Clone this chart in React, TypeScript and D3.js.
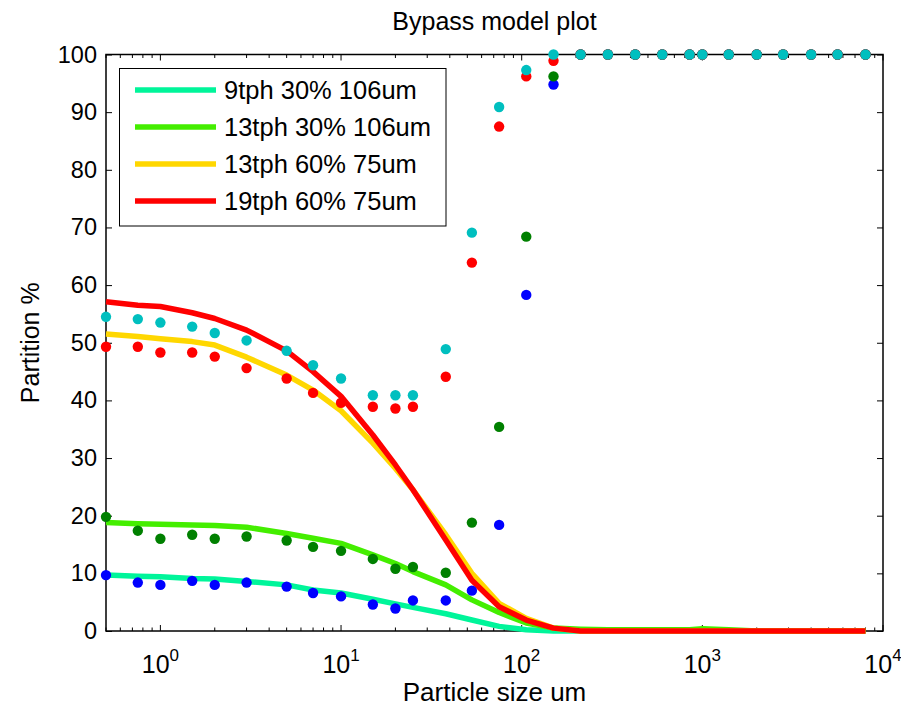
import React, { useEffect, useRef } from 'react';
import * as d3 from 'd3';

// Particle sizes (um)
const sizes = [0.5, 0.75, 1, 1.5, 2, 3, 5, 7, 10, 15, 20, 25, 38, 53, 75, 106, 150, 212, 300, 425, 600, 850, 1000, 1400, 2000, 2800, 4000, 5600, 8000];

// Measured partition points (%)
const blueDots = [9.7, 8.4, 8.0, 8.7, 8.0, 8.4, 7.7, 6.6, 6.0, 4.6, 3.9, 5.3, 5.3, 7.0, 18.4, 58.3, 94.8, 100, 100, 100, 100, 100, 100, 100, 100, 100, 100, 100, 100];
const greenDots = [19.8, 17.4, 16.0, 16.7, 16.0, 16.4, 15.7, 14.6, 13.9, 12.5, 10.8, 11.1, 10.1, 18.8, 35.4, 68.4, 96.2, 100, 100, 100, 100, 100, 100, 100, 100, 100, 100, 100, 100];
const redDots = [49.3, 49.3, 48.3, 48.3, 47.6, 45.6, 43.8, 41.3, 39.6, 38.9, 38.6, 38.9, 44.1, 63.9, 87.5, 96.2, 98.9, 100, 100, 100, 100, 100, 100, 100, 100, 100, 100, 100, 100];
const cyanDots = [54.5, 54.1, 53.5, 52.8, 51.7, 50.4, 48.6, 46.1, 43.8, 40.9, 40.9, 40.9, 48.9, 69.1, 90.9, 97.3, 100, 100, 100, 100, 100, 100, 100, 100, 100, 100, 100, 100, 100];

// Bypass model curves (%)
const model9tph = [9.7, 9.5, 9.4, 9.1, 9.0, 8.6, 8.0, 7.1, 6.6, 5.5, 4.7, 4.1, 3.0, 1.9, 0.8, 0.2, 0, 0, 0, 0, 0, 0, 0, 0, 0, 0, 0, 0, 0];
const model13tph30 = [18.8, 18.6, 18.5, 18.4, 18.3, 18.0, 16.9, 16.1, 15.2, 13.2, 11.7, 10.3, 8.0, 5.4, 3.2, 1.4, 0.5, 0.3, 0.2, 0.2, 0.2, 0.2, 0.4, 0.2, 0, 0, 0, 0, 0];
const model13tph60 = [51.5, 51.1, 50.7, 50.2, 49.6, 47.5, 44.4, 41.8, 38.2, 32.6, 28.2, 24.5, 16.7, 10.0, 4.8, 2.2, 0.5, 0, 0, 0, 0, 0, 0, 0, 0, 0, 0, 0, 0];
const model19tph = [57.1, 56.5, 56.3, 55.2, 54.2, 52.2, 48.6, 45.0, 40.7, 34.0, 28.8, 24.5, 15.8, 8.8, 4.2, 1.9, 0.5, 0, 0, 0, 0, 0, 0, 0, 0, 0, 0, 0, 0];

const lineNames = ['9tph 30% 106um', '13tph 30% 106um', '13tph 60% 75um', '19tph 60% 75um'];
const lineColors = ['#00F59A', '#44EE00', '#FFD700', '#FF0000'];
const lineSeries = [model9tph, model13tph30, model13tph60, model19tph];
const dotColors = ['#0000FF', '#008000', '#FF0000', '#00BFBF'];
const dotSeries = [blueDots, greenDots, redDots, cyanDots];

const xDecades = [1, 10, 100, 1000, 10000];
const yTicks = [0, 10, 20, 30, 40, 50, 60, 70, 80, 90, 100];

const FONT = '"Liberation Sans", Arial, sans-serif';

export default function App() {
  const ref = useRef<SVGSVGElement>(null);
  useEffect(() => {
    const svg = d3.select(ref.current);
    svg.selectAll('*').remove();
    const L = 106, R = 883, T = 54.5, B = 631;
    const x = d3.scaleLog().domain([0.5, 10000]).range([L, R]);
    const y = d3.scaleLinear().domain([0, 100]).range([B, T]);

    svg.append('rect').attr('width', 901).attr('height', 711).attr('fill', '#fff');

    // minor x ticks
    const minor: number[] = [];
    for (let k = -1; k <= 3; k++) {
      for (let m = 1; m <= 9; m++) {
        const v = m * Math.pow(10, k);
        if (v >= 0.5 && v <= 10000 && m !== 1) minor.push(v);
      }
    }
    const tg = svg.append('g').attr('stroke', '#000').attr('stroke-width', 1);
    minor.forEach(v => {
      tg.append('line').attr('x1', x(v)).attr('x2', x(v)).attr('y1', B).attr('y2', B - 3.5);
      tg.append('line').attr('x1', x(v)).attr('x2', x(v)).attr('y1', T).attr('y2', T + 3.5);
    });
    xDecades.forEach(v => {
      tg.append('line').attr('x1', x(v)).attr('x2', x(v)).attr('y1', B).attr('y2', B - 6);
      tg.append('line').attr('x1', x(v)).attr('x2', x(v)).attr('y1', T).attr('y2', T + 6);
    });

    // y axis (left) with inward ticks
    const yAxis = d3.axisLeft(y).tickValues(yTicks).tickSize(-6).tickSizeOuter(0).tickPadding(9);
    const gy = svg.append('g').attr('transform', `translate(${L},0)`).call(yAxis);
    gy.select('.domain').remove();
    gy.selectAll('line').attr('stroke', '#000').attr('stroke-width', 1);
    gy.selectAll('text').attr('font-family', FONT).attr('font-size', 23.5).attr('fill', '#000');
    const yAxisR = d3.axisRight(y).tickValues(yTicks).tickSize(-6).tickSizeOuter(0).tickFormat(() => '');
    const gyr = svg.append('g').attr('transform', `translate(${R},0)`).call(yAxisR);
    gyr.select('.domain').remove();
    gyr.selectAll('line').attr('stroke', '#000').attr('stroke-width', 1);

    // x tick labels with superscripts
    xDecades.forEach(v => {
      const t = svg.append('text').attr('x', x(v)).attr('y', 673).attr('text-anchor', 'middle')
        .attr('font-family', FONT).attr('font-size', 25).attr('fill', '#000');
      t.append('tspan').text('10');
      t.append('tspan').attr('font-size', 17).attr('dy', -12).text(String(Math.round(Math.log10(v))));
    });

    // box
    svg.append('rect').attr('x', L).attr('y', T).attr('width', R - L).attr('height', B - T)
      .attr('fill', 'none').attr('stroke', '#000').attr('stroke-width', 1.5);

    // model lines
    const lineGen = d3.line<number>().x((_, i) => x(sizes[i])).y(d => y(d));
    lineSeries.forEach((s, k) => {
      svg.append('path').attr('d', lineGen(s) as string).attr('fill', 'none')
        .attr('stroke', lineColors[k]).attr('stroke-width', 5.5).attr('stroke-linejoin', 'round');
    });

    // dots
    dotSeries.forEach((s, k) => {
      svg.append('g').selectAll('circle').data(s).join('circle')
        .attr('cx', (_, i) => x(sizes[i])).attr('cy', d => y(d)).attr('r', 5.2)
        .attr('fill', dotColors[k]);
    });

    // legend
    const lg = svg.append('g');
    lg.append('rect').attr('x', 119.5).attr('y', 68.5).attr('width', 326.5).attr('height', 157.5)
      .attr('fill', '#fff').attr('stroke', '#000').attr('stroke-width', 1);
    lineNames.forEach((name, k) => {
      const yy = 90 + k * 37;
      lg.append('line').attr('x1', 135).attr('x2', 216).attr('y1', yy).attr('y2', yy)
        .attr('stroke', lineColors[k]).attr('stroke-width', 5.5);
      lg.append('text').attr('x', 224).attr('y', yy).attr('dy', '0.36em')
        .attr('font-family', FONT).attr('font-size', 25.5).attr('fill', '#000').text(name);
    });

    // titles
    svg.append('text').attr('x', (L + R) / 2).attr('y', 30).attr('text-anchor', 'middle')
      .attr('font-family', FONT).attr('font-size', 25).attr('fill', '#000').text('Bypass model plot');
    svg.append('text').attr('x', (L + R) / 2).attr('y', 701).attr('text-anchor', 'middle')
      .attr('font-family', FONT).attr('font-size', 26).attr('fill', '#000').text('Particle size um');
    svg.append('text').attr('transform', `translate(39,${(T + B) / 2}) rotate(-90)`).attr('text-anchor', 'middle')
      .attr('font-family', FONT).attr('font-size', 25).attr('fill', '#000').text('Partition %');
  }, []);
  return <svg ref={ref} width={901} height={711} style={{ position: 'absolute', left: 0, top: 0, display: 'block' }} />;
}
